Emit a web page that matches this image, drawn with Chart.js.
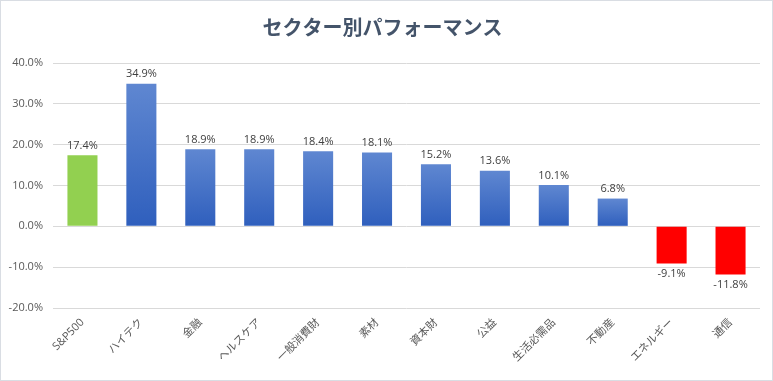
<!DOCTYPE html>
<html><head><meta charset="utf-8">
<script src="https://cdn.jsdelivr.net/npm/chart.js@4"></script>
<style>
html,body{margin:0;padding:0;background:#fff;}
#wrap{width:771px;height:379px;border:1px solid #d9dde3;position:relative;}
</style></head>
<body><div id="wrap"><canvas id="c" width="771" height="379"></canvas></div>
<script>
const categories = ["S&P500","ハイテク","金融","ヘルスケア","一般消費財","素材","資本財","公益","生活必需品","不動産","エネルギー","通信"];
const values = [17.4, 34.9, 18.9, 18.9, 18.4, 18.1, 15.2, 13.6, 10.1, 6.8, -9.1, -11.8];
const yTicks = [-20, -10, 0, 10, 20, 30, 40];
const titleText = "セクター別パフォーマンス";

const FONT = "'Open Sans','Noto Sans CJK JP',sans-serif";

function barColor(ctx){
  const i = ctx.dataIndex;
  const v = values[i];
  if (i === 0) return '#92d050';
  if (v < 0) return '#ff0000';
  const chart = ctx.chart;
  const ys = chart.scales.y;
  if (!ys) return '#4472c4';
  const yTop = ys.getPixelForValue(v);
  const yBase = ys.getPixelForValue(0);
  if (!isFinite(yTop) || !isFinite(yBase) || Math.abs(yBase - yTop) < 1) return '#4472c4';
  const g = chart.ctx.createLinearGradient(0, yTop, 0, yBase);
  g.addColorStop(0, '#5f87d1');
  g.addColorStop(1, '#2f5fbd');
  return g;
}

const labelPlugin = {
  id: 'barLabels',
  afterDatasetsDraw(chart){
    const ctx = chart.ctx;
    const meta = chart.getDatasetMeta(0);
    ctx.save();
    ctx.font = "11px " + FONT;
    ctx.fillStyle = '#404040';
    ctx.textAlign = 'center';
    meta.data.forEach((el, i) => {
      const v = values[i];
      const txt = v.toFixed(1) + '%';
      if (v >= 0) { ctx.textBaseline = 'bottom'; ctx.fillText(txt, el.x, el.y - 4); }
      else { ctx.textBaseline = 'top'; ctx.fillText(txt, el.x, el.y + 5); }
    });
    ctx.restore();
  }
};

new Chart(document.getElementById('c'), {
  type: 'bar',
  data: {
    labels: categories,
    datasets: [{
      data: values,
      backgroundColor: barColor,
      borderWidth: 0,
      barPercentage: 0.51,
      categoryPercentage: 1.0
    }]
  },
  options: {
    responsive: false,
    animation: false,
    devicePixelRatio: 1,
    layout: { padding: { left: 4, right: 12, top: 0, bottom: 6 } },
    plugins: {
      legend: { display: false },
      tooltip: { enabled: false },
      title: {
        display: true,
        text: titleText,
        color: '#44546a',
        font: { family: FONT, size: 20, weight: 'bold' },
        padding: { top: 16, bottom: 22 }
      }
    },
    scales: {
      x: {
        grid: { display: false, drawTicks: false },
        border: { display: false },
        ticks: {
          color: '#595959',
          font: { family: FONT, size: 11 },
          minRotation: 45, maxRotation: 45,
          autoSkip: false,
          padding: 8
        },
        afterFit(s){ s.height = 66; }
      },
      y: {
        min: -20, max: 40,
        afterBuildTicks(s){ s.ticks = yTicks.map(v => ({ value: v })); },
        grid: { color: '#d9d9d9', drawTicks: false, lineWidth: 1 },
        border: { display: false },
        ticks: {
          color: '#595959',
          font: { family: FONT, size: 11 },
          padding: 10,
          callback: v => v.toFixed(1) + '%'
        },
        afterFit(s){ s.width = 48; }
      }
    }
  },
  plugins: [labelPlugin]
});
</script></body></html>
